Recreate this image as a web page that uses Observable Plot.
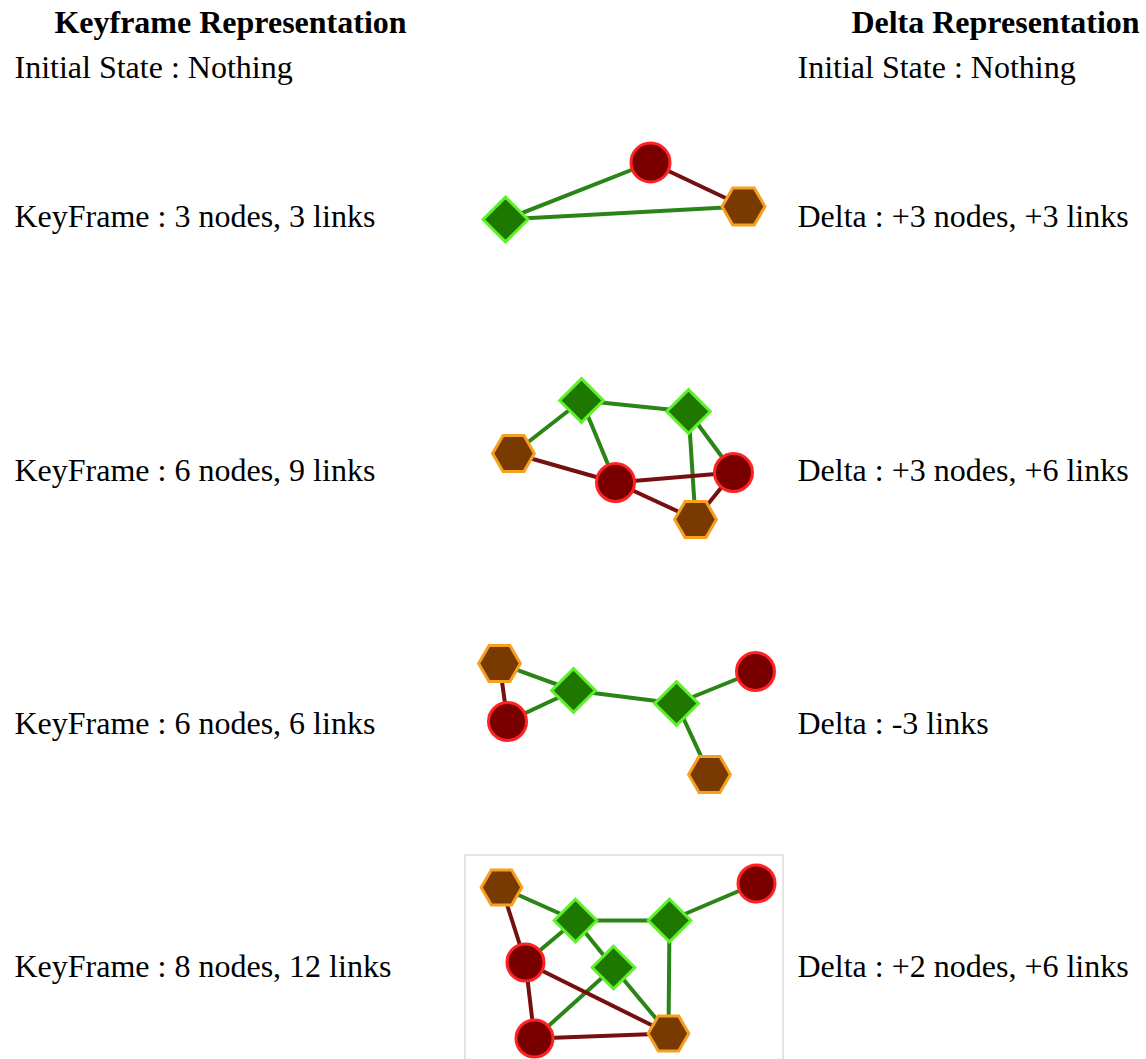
<!DOCTYPE html>
<html>
<head>
<meta charset="utf-8">
<script src="https://cdn.jsdelivr.net/npm/d3@7"></script>
<script src="https://cdn.jsdelivr.net/npm/@observablehq/plot@0.6"></script>
<style>
  html, body { margin: 0; padding: 0; background: #fff; }
  #chart svg { display: block; }
</style>
</head>
<body>
<div id="chart"></div>
<script>
// ---- Text content ----
const headers = ["Keyframe Representation", "Delta Representation"];
const keyframeLabels = ["Initial State : Nothing", "KeyFrame : 3 nodes, 3 links", "KeyFrame : 6 nodes, 9 links", "KeyFrame : 6 nodes, 6 links", "KeyFrame : 8 nodes, 12 links"];
const deltaLabels = ["Initial State : Nothing", "Delta : +3 nodes, +3 links", "Delta : +3 nodes, +6 links", "Delta : -3 links", "Delta : +2 nodes, +6 links"];

// ---- Graph data (node id, type, position) ----
const graph1Nodes = [
  {id: "d1", type: "diamond", x: 505, y: 219},
  {id: "c1", type: "circle", x: 650, y: 162},
  {id: "h1", type: "hexagon", x: 743, y: 206}
];
const graph1Links = [["d1", "c1"], ["d1", "h1"], ["c1", "h1"]];

const graph2Nodes = [
  {id: "d1", type: "diamond", x: 581, y: 400},
  {id: "d2", type: "diamond", x: 688, y: 411},
  {id: "h1", type: "hexagon", x: 513, y: 453},
  {id: "c1", type: "circle", x: 615, y: 482},
  {id: "c2", type: "circle", x: 733, y: 472},
  {id: "h2", type: "hexagon", x: 695, y: 519}
];
const graph2Links = [["d1", "h1"], ["d1", "d2"], ["d1", "c1"], ["d2", "h2"], ["d2", "c2"], ["h1", "c1"], ["c1", "c2"], ["c1", "h2"], ["c2", "h2"]];

const graph3Nodes = [
  {id: "h1", type: "hexagon", x: 499, y: 663},
  {id: "c1", type: "circle", x: 507, y: 721},
  {id: "d1", type: "diamond", x: 573, y: 690},
  {id: "d2", type: "diamond", x: 676, y: 703},
  {id: "c2", type: "circle", x: 755, y: 671},
  {id: "h2", type: "hexagon", x: 709, y: 774}
];
const graph3Links = [["h1", "c1"], ["h1", "d1"], ["c1", "d1"], ["d1", "d2"], ["d2", "c2"], ["d2", "h2"]];

const graph4Nodes = [
  {id: "h1", type: "hexagon", x: 501, y: 887},
  {id: "c3", type: "circle", x: 756, y: 883},
  {id: "d1", type: "diamond", x: 575, y: 920},
  {id: "d2", type: "diamond", x: 669, y: 920},
  {id: "d3", type: "diamond", x: 613, y: 967},
  {id: "c1", type: "circle", x: 525, y: 962},
  {id: "c2", type: "circle", x: 534, y: 1038},
  {id: "h2", type: "hexagon", x: 668, y: 1033}
];
const graph4Links = [["h1", "d1"], ["h1", "c1"], ["d1", "d2"], ["d1", "c1"], ["d1", "d3"], ["d2", "c3"], ["d2", "h2"], ["d3", "h2"], ["d3", "c2"], ["c1", "c2"], ["c1", "h2"], ["c2", "h2"]];

// ---- Layout (not data) ----
const W = 1146, H = 1059;
const rowY = [67, 216, 470, 723, 966];
const headerX = [230, 995];
const frameBox = [{x1: 465, y1: 855, x2: 783, y2: 1064}];

// ---- Styles ----
const nodeStyle = {
  circle: {fill: "#7a0000", stroke: "#ff2222"},
  diamond: {fill: "#1e7800", stroke: "#5ef02a"},
  hexagon: {fill: "#783a00", stroke: "#f5a020"}
};
const greenLink = "#2a8416", redLink = "#761010";

const hexFlat = {
  draw(ctx, size) {
    const r = Math.sqrt(size / Math.PI) * 1.1, h = r * Math.sqrt(3) / 2;
    ctx.moveTo(r, 0); ctx.lineTo(r / 2, h); ctx.lineTo(-r / 2, h);
    ctx.lineTo(-r, 0); ctx.lineTo(-r / 2, -h); ctx.lineTo(r / 2, -h); ctx.closePath();
  }
};
const diamondSq = {
  draw(ctx, size) {
    const r = Math.sqrt(size / Math.PI) * 1.15;
    ctx.moveTo(0, -r); ctx.lineTo(r, 0); ctx.lineTo(0, r); ctx.lineTo(-r, 0); ctx.closePath();
  }
};
const symbols = {circle: "circle", diamond: diamondSq, hexagon: hexFlat};

function graphMarks(nodes, links, r) {
  const byId = new Map(nodes.map(n => [n.id, n]));
  const linkData = links.map(([s, t]) => {
    const a = byId.get(s), b = byId.get(t);
    return {a, b, green: a.type === "diamond" || b.type === "diamond"};
  });
  const marks = [
    Plot.link(linkData, {
      x1: d => d.a.x, y1: d => d.a.y, x2: d => d.b.x, y2: d => d.b.y,
      stroke: d => d.green ? greenLink : redLink, strokeWidth: 4, strokeLinecap: "butt"
    })
  ];
  for (const type of ["circle", "hexagon", "diamond"]) {
    marks.push(Plot.dot(nodes.filter(n => n.type === type), {
      x: "x", y: "y", r, symbol: symbols[type],
      fill: nodeStyle[type].fill, stroke: nodeStyle[type].stroke, strokeWidth: 3
    }));
  }
  return marks;
}

const font = "'Liberation Serif', 'Times New Roman', serif";

const chart = Plot.plot({
  width: W, height: H,
  marginTop: 0, marginRight: 0, marginBottom: 0, marginLeft: 0,
  x: {domain: [0, W], range: [0, W], axis: null},
  y: {domain: [0, H], range: [0, H], axis: null},
  style: {fontFamily: font, background: "#fff"},
  marks: [
    Plot.rect(frameBox, {x1: "x1", x2: "x2", y1: "y1", y2: "y2", fill: "none", stroke: "#dcdcdc", strokeWidth: 1.5}),
    ...graphMarks(graph1Nodes, graph1Links, 19.5),
    ...graphMarks(graph2Nodes, graph2Links, 19),
    ...graphMarks(graph3Nodes, graph3Links, 19),
    ...graphMarks(graph4Nodes, graph4Links, 18.5),
    Plot.text(headers, {
      x: (d, i) => headerX[i], y: () => 22, text: d => d,
      textAnchor: "middle", fontSize: 32, fontWeight: "bold", fill: "#000"
    }),
    Plot.text(keyframeLabels, {
      x: () => 14, y: (d, i) => rowY[i], text: d => d,
      textAnchor: "start", fontSize: 32, fill: "#000"
    }),
    Plot.text(deltaLabels, {
      x: () => 797, y: (d, i) => rowY[i], text: d => d,
      textAnchor: "start", fontSize: 32, fill: "#000"
    })
  ]
});
document.getElementById("chart").appendChild(chart);
</script>
</body>
</html>
